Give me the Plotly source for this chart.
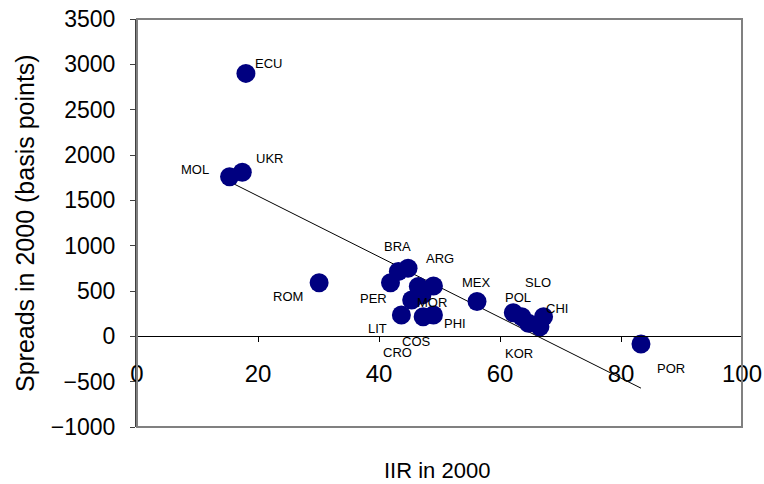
import numpy as np
import plotly.graph_objects as go

# ---- data ----
countries = ["ECU", "UKR", "MOL", "ROM", "BRA", "", "PER", "", "ARG", "MOR", "CRO",
             "LIT", "COS", "PHI", "MEX", "POL", "SLO", "KOR", "CHI", "", "POR"]
iir_2000 = [18.0, 17.4, 15.3, 30.1, 44.8, 43.2, 41.9, 46.5, 49.0, 45.4, 47.1,
            43.7, 47.3, 49.0, 56.2, 62.2, 63.6, 64.7, 67.2, 66.6, 83.3]
spreads_2000 = [2900, 1810, 1760, 590, 750, 715, 590, 550, 555, 400, 455,
                235, 215, 235, 385, 260, 215, 145, 215, 105, -85]
x_ticks = [0, 20, 40, 60, 80, 100]
y_ticks = [-1000, -500, 0, 500, 1000, 1500, 2000, 2500, 3000, 3500]

# label pixel offsets (style only): (dx right, dy down)
label_offsets = {
    "ECU": (23, -10), "UKR": (27, -14), "MOL": (-35, -7), "ROM": (-31, 14),
    "BRA": (-11, -22), "PER": (-17, 16), "ARG": (7, -28), "MOR": (20, 2),
    "CRO": (-24, 57), "LIT": (-24, 13), "COS": (-7, 25), "PHI": (22, 8),
    "MEX": (-1, -19), "POL": (5, -15), "SLO": (16, -34), "KOR": (-9, 30),
    "CHI": (13, -8), "POR": (30, 24),
}

FONT = "Arial, Liberation Sans, sans-serif"

fig = go.Figure()

# linear trend line fitted to the data
xa = np.array(iir_2000)
ya = np.array(spreads_2000)
slope, intercept = np.polyfit(xa, ya, 1)
xl = np.array([xa.min(), xa.max()])
fig.add_trace(go.Scatter(x=xl, y=slope * xl + intercept, mode="lines",
                         line=dict(color="black", width=1), hoverinfo="skip",
                         showlegend=False))

fig.add_trace(go.Scatter(x=iir_2000, y=spreads_2000, mode="markers",
                         marker=dict(size=19, color="#000080"),
                         showlegend=False))

for name, xv, yv in zip(countries, iir_2000, spreads_2000):
    if not name:
        continue
    dx, dy = label_offsets[name]
    fig.add_annotation(x=xv, y=yv, text=name, showarrow=False,
                       xshift=dx, yshift=-dy,
                       font=dict(family=FONT, size=13, color="black"))

ymin, ymax = -1000, 3500
fig.update_layout(
    width=764, height=484,
    margin=dict(l=137, r=22, t=19, b=57),
    paper_bgcolor="white", plot_bgcolor="white",
    font=dict(family=FONT, color="black"),
    xaxis=dict(range=[0, 100], tickvals=x_ticks, showgrid=False, zeroline=False,
               anchor="free", position=(0 - ymin) / (ymax - ymin),
               automargin=False,
               showline=True, linecolor="black", linewidth=1,
               ticks="outside", ticklen=5, tickcolor="black",
               tickfont=dict(family=FONT, size=24), ticklabelstandoff=11),
    yaxis=dict(range=[ymin, ymax], tickvals=y_ticks, showgrid=False, zeroline=False,
               automargin=False,
               showline=True, linecolor="#404040", linewidth=2,
               ticks="outside", ticklen=5, tickcolor="#404040",
               tickfont=dict(family=FONT, size=23), ticklabelstandoff=10),
    shapes=[dict(type="rect", xref="paper", yref="paper", x0=0, y0=0, x1=1, y1=1,
                 line=dict(color="#808080", width=2), layer="above")],
)

fig.add_annotation(xref="paper", yref="paper", x=(25 - 137) / 605, y=0.5,
                   text="Spreads in 2000 (basis points)", textangle=-90,
                   xanchor="center", yanchor="middle",
                   showarrow=False, font=dict(family=FONT, size=25))
fig.add_annotation(xref="paper", yref="paper", x=0.496, y=(427 - 470) / 408,
                   text="IIR in 2000", showarrow=False,
                   xanchor="center", yanchor="middle",
                   font=dict(family=FONT, size=22))

fig.write_html("out.html",
               config={"displayModeBar": False},
               post_script="document.body.style.margin='0';"
                           "document.body.style.overflow='hidden';")
